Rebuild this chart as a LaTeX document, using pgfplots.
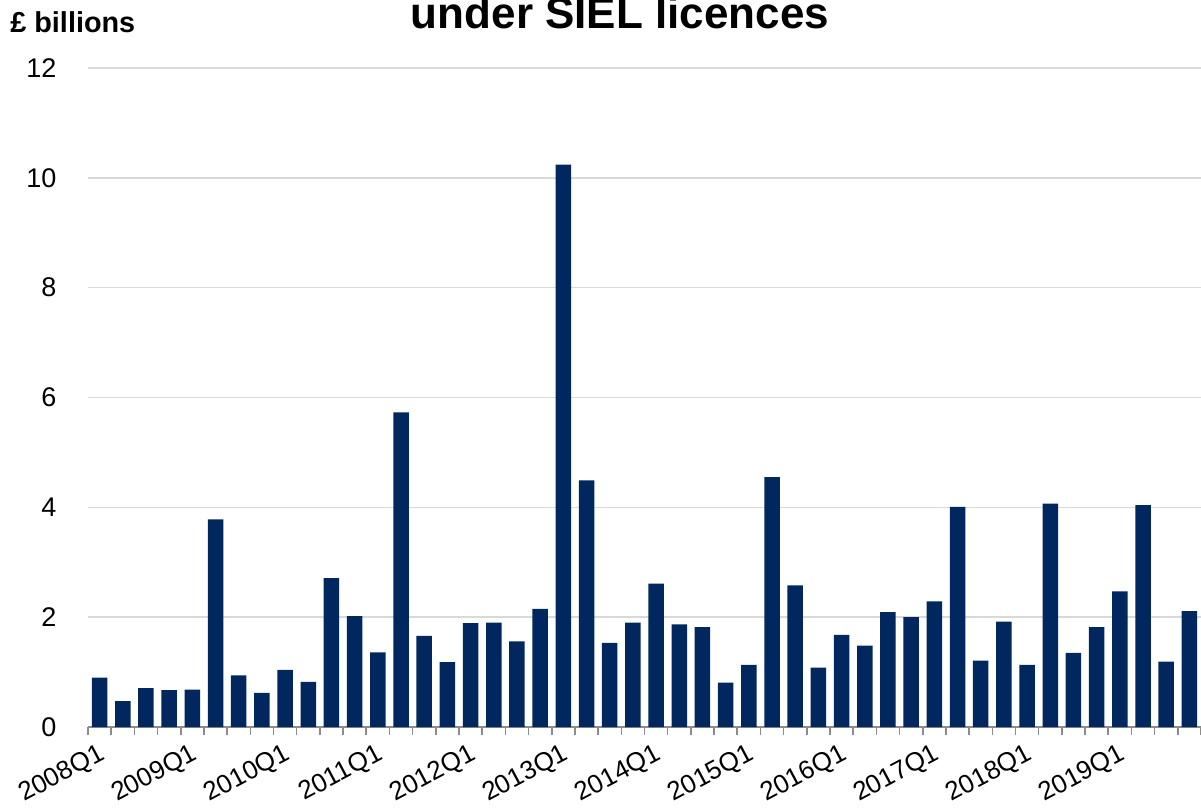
\documentclass[border=0pt]{standalone}
\usepackage{pgfplots}
\pgfplotsset{compat=1.18}
\usepackage{fontspec}
\setmainfont{Liberation Sans}
\definecolor{BarNavy}{HTML}{00285E}
\definecolor{GridGrey}{HTML}{D9D9D9}
\definecolor{AxisGrey}{HTML}{8C8C8C}

\pgfplotstableread{
idx val
0 0.90
1 0.47
2 0.71
3 0.67
4 0.68
5 3.78
6 0.94
7 0.62
8 1.04
9 0.82
10 2.71
11 2.02
12 1.36
13 5.73
14 1.66
15 1.18
16 1.89
17 1.90
18 1.56
19 2.15
20 10.24
21 4.49
22 1.53
23 1.90
24 2.61
25 1.87
26 1.82
27 0.81
28 1.13
29 4.55
30 2.58
31 1.08
32 1.68
33 1.48
34 2.09
35 2.00
36 2.29
37 4.01
38 1.21
39 1.92
40 1.13
41 4.07
42 1.35
43 1.82
44 2.47
45 4.04
46 1.19
47 2.11
}\sielvalues

\begin{document}
\begin{tikzpicture}
\begin{axis}[
  at={(44pt,-363.5pt)}, anchor=south west,
  scale only axis, width=556.5pt, height=329.5pt,
  xmin=-0.5, xmax=47.5, ymin=0, ymax=12,
  ytick={0,2,...,12},
  xtick={0,4,...,44},
  xticklabels={2008Q1,2009Q1,2010Q1,2011Q1,2012Q1,2013Q1,2014Q1,2015Q1,2016Q1,2017Q1,2018Q1,2019Q1},
  minor xtick={-0.5,0.5,...,47.5},
  axis x line*=bottom, axis y line*=left,
  y axis line style={draw=none},
  x axis line style={AxisGrey, line width=1pt},
  xtick pos=lower, tick align=outside,
  major x tick style={draw=none},
  minor x tick style={AxisGrey, line width=0.8pt},
  minor tick length=4pt,
  ytick style={draw=none},
  ymajorgrids, grid style={GridGrey, line width=0.8pt},
  /pgf/number format/assume math mode=true,
  yticklabel style={font=\fontsize{13.5}{15}\selectfont, xshift=-8pt},
  xticklabel style={font=\fontsize{13}{15}\selectfont, rotate=28, anchor=north east, xshift=1pt, yshift=1pt},
  ybar, bar width=0.67,
]
\addplot[fill=BarNavy, draw=none] table[x=idx, y=val] {\sielvalues};
\end{axis}
\node[anchor=base, font=\fontsize{22}{24}\selectfont\bfseries] at (310pt,-14pt) {under SIEL licences};
\node[anchor=base west, inner sep=0pt, font=\fontsize{14.4}{16}\selectfont\bfseries] at (5pt,-16pt) {£ billions};
\pgfresetboundingbox
\useasboundingbox (0,0) rectangle (600.5pt,-405pt);
\end{tikzpicture}
\end{document}
